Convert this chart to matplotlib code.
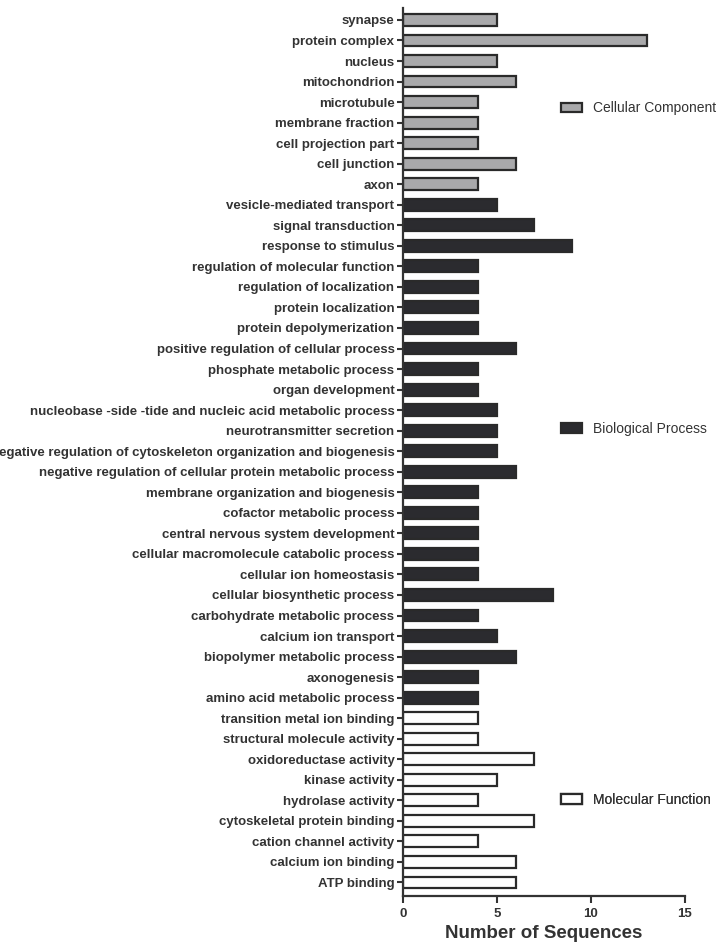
import numpy as np
import matplotlib
matplotlib.use("Agg")
import matplotlib.pyplot as plt
from matplotlib.patches import Patch

plt.rcParams['font.family'] = ['Liberation Sans Narrow', 'Liberation Sans', 'DejaVu Sans']

# GO categories, top to bottom as drawn
cc_terms = ["synapse", "protein complex", "nucleus", "mitochondrion", "microtubule",
            "membrane fraction", "cell projection part", "cell junction", "axon"]
cc_counts = [5, 13, 5, 6, 4, 4, 4, 6, 4]

bp_terms = ["vesicle-mediated transport", "signal transduction", "response to stimulus",
            "regulation of molecular function", "regulation of localization",
            "protein localization", "protein depolymerization",
            "positive regulation of cellular process", "phosphate metabolic process",
            "organ development",
            "nucleobase -side -tide and nucleic acid metabolic process",
            "neurotransmitter secretion",
            "negative regulation of cytoskeleton organization and biogenesis",
            "negative regulation of cellular protein metabolic process",
            "membrane organization and biogenesis", "cofactor metabolic process",
            "central nervous system development",
            "cellular macromolecule catabolic process", "cellular ion homeostasis",
            "cellular biosynthetic process", "carbohydrate metabolic process",
            "calcium ion transport", "biopolymer metabolic process", "axonogenesis",
            "amino acid metabolic process"]
bp_counts = [5, 7, 9, 4, 4, 4, 4, 6, 4, 4, 5, 5, 5, 6, 4, 4, 4, 4, 4, 8, 4, 5, 6, 4, 4]

mf_terms = ["transition metal ion binding", "structural molecule activity",
            "oxidoreductase activity", "kinase activity", "hydrolase activity",
            "cytoskeletal protein binding", "cation channel activity",
            "calcium ion binding", "ATP binding"]
mf_counts = [4, 4, 7, 5, 4, 7, 4, 6, 6]

groups = [("Cellular Component", cc_terms, cc_counts, "#a9a9ab"),
          ("Biological Process", bp_terms, bp_counts, "#2b2b2f"),
          ("Molecular Function", mf_terms, mf_counts, "white")]

edge = "#2a2a2a"
fig = plt.figure(figsize=(7.27, 9.51), dpi=100)
ax = fig.add_axes([0.554, 0.058, 0.388, 0.934])

labels = []
pos = 0
legend_y = {"Cellular Component": 0.886, "Biological Process": 0.549,
            "Molecular Function": 0.159}
for name, terms, counts, color in groups:
    y = np.arange(pos, pos + len(terms))
    ax.barh(y, counts, height=0.58, color=color, edgecolor=edge, linewidth=1.6)
    labels += terms
    pos += len(terms)
    leg = ax.legend(handles=[Patch(facecolor=color, edgecolor=edge, linewidth=1.6)],
                    labels=[name], loc="center left",
                    bbox_to_anchor=(0.772, legend_y[name]), bbox_transform=fig.transFigure,
                    frameon=False, fontsize=10, handlelength=1.5, handleheight=0.7,
                    handletextpad=0.8, borderpad=0, borderaxespad=0)
    for t in leg.get_texts():
        t.set_color("#333333")
    ax.add_artist(leg)

ax.set_yticks(np.arange(len(labels)))
ax.set_yticklabels(labels, fontsize=9.5, fontweight="bold", color="#333333")
ax.set_ylim(len(labels) - 1 + 0.65, -0.6)

ax.set_xlim(0, 15)
ax.set_xticks([0, 5, 10, 15])
ax.tick_params(axis="x", labelsize=9.5, colors="#333333", width=1.5, length=5)
for t in ax.get_xticklabels():
    t.set_fontweight("bold")
ax.tick_params(axis="y", width=1.5, length=4, colors="#333333", pad=2)
ax.set_xlabel("Number of Sequences", fontsize=13.5, fontweight="bold", color="#333333")

for s in ["top", "right"]:
    ax.spines[s].set_visible(False)
for s in ["left", "bottom"]:
    ax.spines[s].set_linewidth(1.6)
    ax.spines[s].set_color("#333333")

fig.savefig("out.png", dpi=100)
